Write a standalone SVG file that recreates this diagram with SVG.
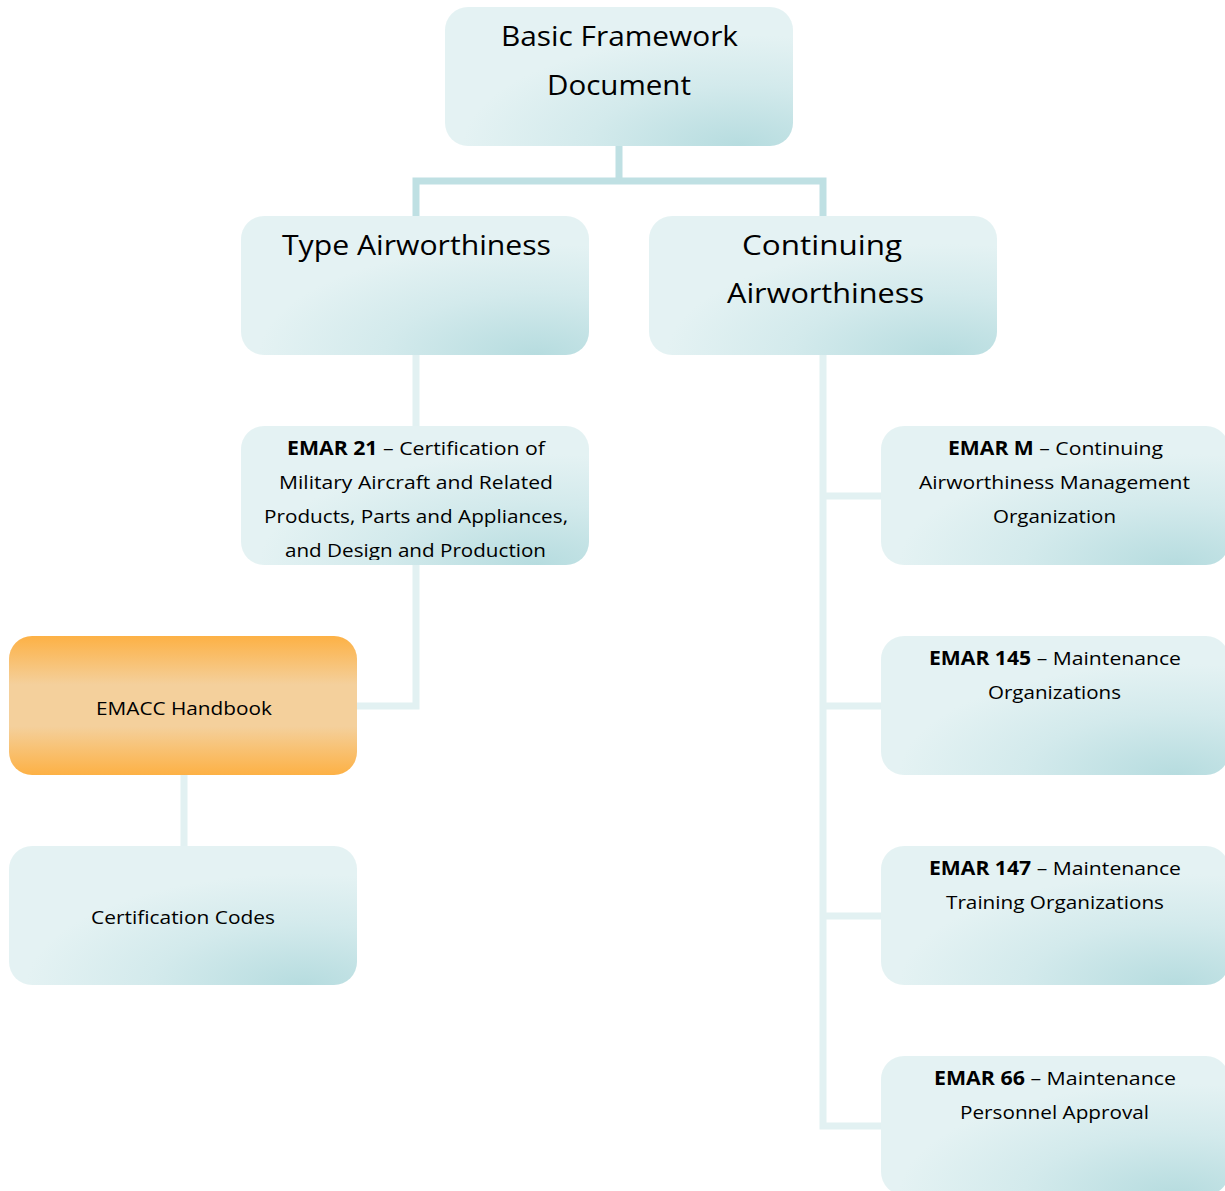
<svg xmlns="http://www.w3.org/2000/svg" width="1225" height="1191" viewBox="0 0 1225 1191">
<defs>
<radialGradient id="teal" cx="0.85" cy="1" r="0.8" fx="0.85" fy="1">
<stop offset="0" stop-color="#b6dcdf"/>
<stop offset="0.55" stop-color="#d3eaec"/>
<stop offset="1" stop-color="#e4f2f3"/>
</radialGradient>
<linearGradient id="orange" x1="0" y1="0" x2="0" y2="1">
<stop offset="0" stop-color="#fdb145"/>
<stop offset="0.35" stop-color="#f4d09c"/>
<stop offset="0.65" stop-color="#f4d09c"/>
<stop offset="1" stop-color="#fdb145"/>
</linearGradient>
<clipPath id="clip21"><rect x="241" y="426" width="348" height="134"/></clipPath>
</defs>
<style>
.box{fill:url(#teal);}
.org{fill:url(#orange);}
.big{font-family:"Open Sans","Noto Sans","DejaVu Sans",sans-serif;font-size:27px;fill:#000;text-anchor:middle;}
.sm{font-family:"Open Sans","Noto Sans","DejaVu Sans",sans-serif;font-size:19px;fill:#000;text-anchor:middle;}
.b{font-weight:bold;}
.c1{stroke:#bfe0e3;stroke-width:7;fill:none;}
.c2{stroke:#e2f1f2;stroke-width:7;fill:none;}
</style>
<rect width="1225" height="1191" fill="#fff"/>
<g id="connectors">
<path class="c1" d="M619 146V181M416 216V181H823V216"/>
<path class="c2" d="M416 355V426M416 565V706H357M184 775V846M823 355V1126H881M823 496H881M823 706H881M823 916H881"/>
</g>
<g id="basic">
<rect class="box" x="445" y="7" width="348" height="139" rx="23"/>
<text class="big" x="619.5" y="46" textLength="237" lengthAdjust="spacingAndGlyphs">Basic Framework</text>
<text class="big" x="619" y="95" textLength="144" lengthAdjust="spacingAndGlyphs">Document</text>
</g>
<g id="type">
<rect class="box" x="241" y="216" width="348" height="139" rx="23"/>
<text class="big" x="416.5" y="255" textLength="269" lengthAdjust="spacingAndGlyphs">Type Airworthiness</text>
</g>
<g id="continuing">
<rect class="box" x="649" y="216" width="348" height="139" rx="23"/>
<text class="big" x="822" y="255" textLength="160" lengthAdjust="spacingAndGlyphs">Continuing</text>
<text class="big" x="825.5" y="303" textLength="197" lengthAdjust="spacingAndGlyphs">Airworthiness</text>
</g>
<g id="emar21">
<rect class="box" x="241" y="426" width="348" height="139" rx="23"/>
<g clip-path="url(#clip21)">
<text class="sm" x="416" y="455" textLength="258" lengthAdjust="spacingAndGlyphs"><tspan class="b">EMAR 21</tspan> – Certification of</text>
<text class="sm" x="416" y="489" textLength="274" lengthAdjust="spacingAndGlyphs">Military Aircraft and Related</text>
<text class="sm" x="416" y="523" textLength="304" lengthAdjust="spacingAndGlyphs">Products, Parts and Appliances,</text>
<text class="sm" x="415.5" y="557" textLength="261" lengthAdjust="spacingAndGlyphs">and Design and Production</text>
</g>
</g>
<g id="emacc">
<rect class="org" x="9" y="636" width="348" height="139" rx="23"/>
<text class="sm" x="184" y="715" textLength="176" lengthAdjust="spacingAndGlyphs">EMACC Handbook</text>
</g>
<g id="certcodes">
<rect class="box" x="9" y="846" width="348" height="139" rx="23"/>
<text class="sm" x="183" y="924" textLength="184" lengthAdjust="spacingAndGlyphs">Certification Codes</text>
</g>
<g id="emarm">
<rect class="box" x="881" y="426" width="348" height="139" rx="23"/>
<text class="sm" x="1055.5" y="455" textLength="215" lengthAdjust="spacingAndGlyphs"><tspan class="b">EMAR M</tspan> – Continuing</text>
<text class="sm" x="1054.5" y="489" textLength="271" lengthAdjust="spacingAndGlyphs">Airworthiness Management</text>
<text class="sm" x="1054.5" y="523" textLength="123" lengthAdjust="spacingAndGlyphs">Organization</text>
</g>
<g id="emar145">
<rect class="box" x="881" y="636" width="348" height="139" rx="23"/>
<text class="sm" x="1055" y="665" textLength="252" lengthAdjust="spacingAndGlyphs"><tspan class="b">EMAR 145</tspan> – Maintenance</text>
<text class="sm" x="1054.5" y="699" textLength="133" lengthAdjust="spacingAndGlyphs">Organizations</text>
</g>
<g id="emar147">
<rect class="box" x="881" y="846" width="348" height="139" rx="23"/>
<text class="sm" x="1055" y="875" textLength="252" lengthAdjust="spacingAndGlyphs"><tspan class="b">EMAR 147</tspan> – Maintenance</text>
<text class="sm" x="1055" y="909" textLength="218" lengthAdjust="spacingAndGlyphs">Training Organizations</text>
</g>
<g id="emar66">
<rect class="box" x="881" y="1056" width="348" height="139" rx="23"/>
<text class="sm" x="1055" y="1085" textLength="242" lengthAdjust="spacingAndGlyphs"><tspan class="b">EMAR 66</tspan> – Maintenance</text>
<text class="sm" x="1054.5" y="1119" textLength="189" lengthAdjust="spacingAndGlyphs">Personnel Approval</text>
</g>
</svg>
